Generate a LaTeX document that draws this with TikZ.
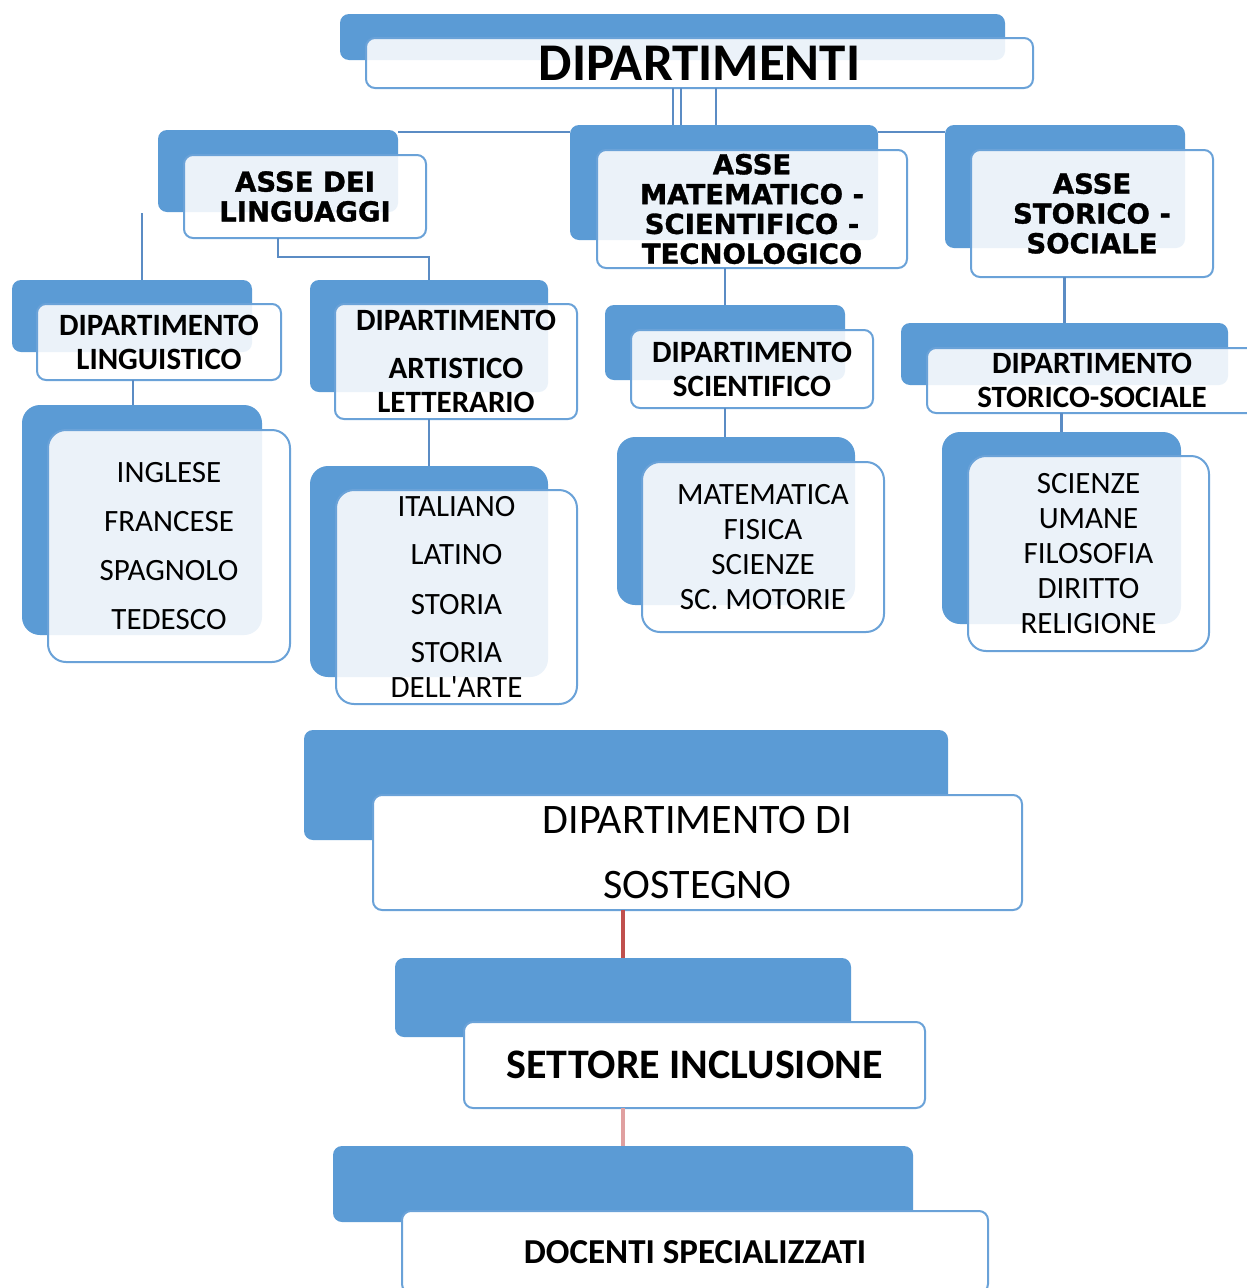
\documentclass[tikz,border=0pt]{standalone}
\usepackage{fontspec}
\setmainfont{Carlito}
\newfontfamily\decofont[BoldFeatures={FakeBold=1.2}]{DejaVu Sans}
\definecolor{bkblue}{HTML}{5B9BD5}
\definecolor{edgeblue}{HTML}{6AA2D8}
\definecolor{lineblue}{HTML}{5B8CC4}
\definecolor{redline}{HTML}{C0504D}
\definecolor{pinkline}{HTML}{E0A0A0}
\tikzset{
  bw/.style={minimum width=#1pt},
  bh/.style={minimum height=#1pt},
  bk/.style={fill=bkblue, rounded corners=9pt, anchor=north west, inner sep=0pt, outer sep=0pt},
  fr/.style={draw=edgeblue, line width=2pt, fill=white, fill opacity=0.88, text opacity=1,
             rounded corners=9pt, anchor=north west, inner sep=0pt, outer sep=0pt, align=center},
  frs/.style={fr, fill opacity=1},
  conn/.style={draw=lineblue, line width=2.8pt},
  asse/.style={font=\decofont\bfseries\fontsize{27.5}{29.8}\selectfont},
  dip/.style={font=\bfseries\fontsize{31}{34}\selectfont},
  lst/.style={font=\fontsize{31}{35}\selectfont},
}
\begin{document}
\begin{tikzpicture}[x=1pt,y=-1pt]
\useasboundingbox (0,0) rectangle (1247,1288);
\fill[white] (0,0) rectangle (1247,1288);

% top
\node[bk, bw=665, bh=46] (topb) at (340,14) {};
\node[fr, bw=667, bh=50, font=\bfseries\fontsize{53}{60}\selectfont] (topf) at (366,38) {DIPARTIMENTI};

% assi
\node[bk, bw=240, bh=82] (asseLb) at (158,130) {};
\node[fr, bw=242, bh=83, asse] (asseLf) at (184,155) {ASSE DEI\\LINGUAGGI};
\node[bk, bw=308, bh=115] (asseMb) at (570,125) {};
\node[fr, bw=310, bh=118, asse] (asseMf) at (597,150) {ASSE\\MATEMATICO -\\SCIENTIFICO -\\TECNOLOGICO};
\node[bk, bw=240, bh=123] (asseSb) at (945,125) {};
\node[fr, bw=242, bh=127, asse] (asseSf) at (971,150) {ASSE\\STORICO -\\SOCIALE};

% dipartimenti
\node[bk, bw=240, bh=72] (dipLb) at (12,280) {};
\node[fr, bw=244, bh=76, dip] (dipLf) at (37,304) {DIPARTIMENTO\\LINGUISTICO};
\node[bk, bw=238, bh=112] (dipAb) at (310,280) {};
\node[fr, bw=242, bh=115, dip] (dipAf) at (335,304) {DIPARTIMENTO\\[14pt]ARTISTICO\\LETTERARIO};
\node[bk, bw=240, bh=75] (dipScb) at (605,305) {};
\node[fr, bw=242, bh=78, dip] (dipScf) at (631,330) {DIPARTIMENTO\\SCIENTIFICO};
\node[bk, bw=327, bh=62] (dipStb) at (901,323) {};
\node[fr, bw=330, bh=65, dip] (dipStf) at (927,348) {DIPARTIMENTO\\STORICO-SOCIALE};

% liste
\node[bk, bw=240, bh=230, rounded corners=18pt] (listLb) at (22,405) {};
\node[fr, bw=242, bh=232, rounded corners=18pt, lst] (listLf) at (48,430) {INGLESE\\[13.7pt]FRANCESE\\[13.7pt]SPAGNOLO\\[13.7pt]TEDESCO};
\node[bk, bw=238, bh=211, rounded corners=18pt] (listAb) at (310,466) {};
\node[fr, bw=241, bh=214, rounded corners=18pt, lst] (listAf) at (336,490) {ITALIANO\\[13pt]LATINO\\[15pt]STORIA\\[13pt]STORIA\\DELL\textquotesingle ARTE};
\node[bk, bw=238, bh=168, rounded corners=18pt] (listScb) at (617,437) {};
\node[fr, bw=242, bh=170, rounded corners=18pt, lst] (listScf) at (642,462) {MATEMATICA\\FISICA\\SCIENZE\\SC. MOTORIE};
\node[bk, bw=239, bh=192, rounded corners=18pt] (listStb) at (942,432) {};
\node[fr, bw=241, bh=195, rounded corners=18pt, lst] (listStf) at (968,456) {SCIENZE\\UMANE\\FILOSOFIA\\DIRITTO\\RELIGIONE};

% sostegno
\node[bk, bw=644, bh=110] (sostb) at (304,730) {};
\node[frs, bw=649, bh=115, font=\fontsize{42}{65}\selectfont] (sostf) at (373,795) {DIPARTIMENTO DI\\SOSTEGNO};
\node[bk, bw=456, bh=79] (settb) at (395,958) {};
\node[frs, bw=461, bh=86, font=\bfseries\fontsize{42}{48}\selectfont] (settf) at (464,1022) {SETTORE INCLUSIONE};
\node[bk, bw=580, bh=76] (docb) at (333,1146) {};
\node[frs, bw=586, bh=82, font=\bfseries\fontsize{35}{40}\selectfont] (docf) at (402,1211) {DOCENTI SPECIALIZZATI};

% connectors
\coordinate (t1) at ([xshift=-26.5pt]topf.south);
\coordinate (t2) at ([xshift=-18.5pt]topf.south);
\coordinate (t3) at ([xshift=16.5pt]topf.south);
\draw[conn, line width=2pt] (t1) -- (t1 |- asseMb.north);
\draw[conn, line width=2pt] (t2) -- (t2 |- asseMb.north);
\draw[conn, line width=2pt] (t3) -- (t3 |- asseMb.north);
\coordinate (hy) at (0,132);
\draw[conn] (asseLb.east |- hy) -- (asseMb.west |- hy);
\draw[conn] (asseMb.east |- hy) -- (asseSb.west |- hy);

\coordinate (l1) at (142,213);
\draw[conn] (l1) -- (l1 |- dipLb.north);
\draw[conn] ([xshift=-27pt]asseLf.south) -- ++(0,19) -| (dipAb.north);
\coordinate (l2) at ([xshift=-26pt]dipLf.south);
\draw[conn] (l2) -- (l2 |- listLb.north);
\draw[conn] (listAb.north |- dipAf.south) -- (listAb.north);
\draw[conn] (dipScb.north |- asseMf.south) -- (dipScb.north);
\draw[conn] (dipScb.south |- dipScf.south) -- (dipScb.south |- listScb.north);
\draw[conn] (dipStb.north |- asseSf.south) -- (dipStb.north);
\draw[conn] (listStb.north |- dipStf.south) -- (listStb.north);
\draw[conn, draw=redline, line width=3.5pt] (settb.north |- sostf.south) -- (settb.north);
\draw[conn, draw=pinkline, line width=3.5pt] (docb.north |- settf.south) -- (docb.north);
\end{tikzpicture}
\end{document}
